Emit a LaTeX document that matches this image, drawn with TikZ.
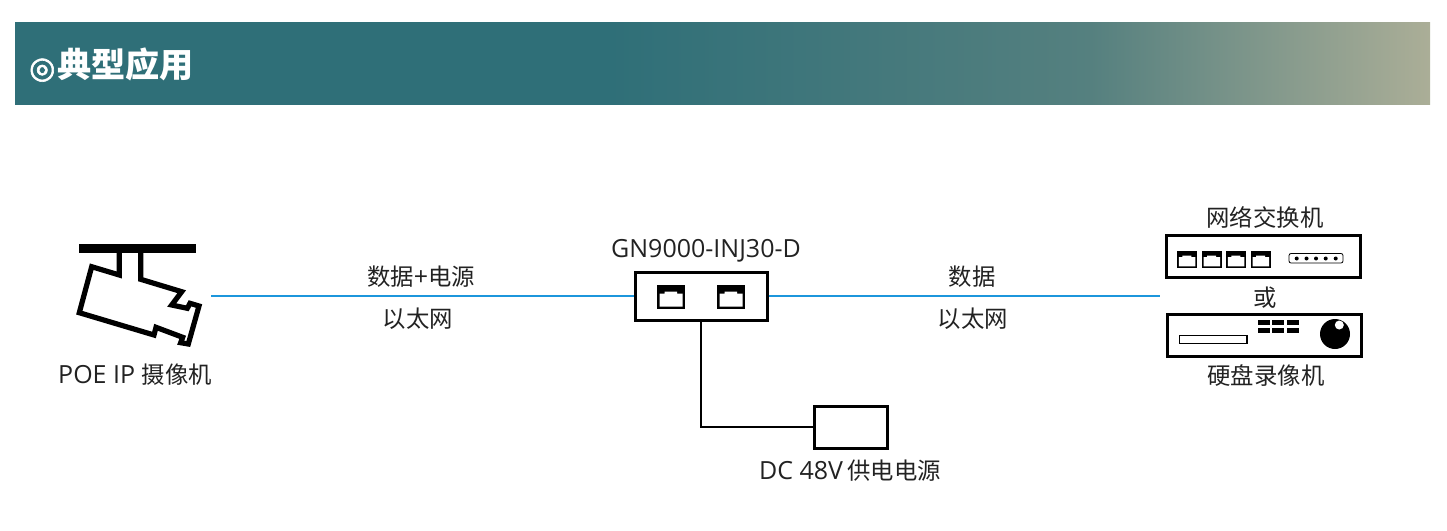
\documentclass[tikz,border=0pt]{standalone}
\usepackage{fontspec}
\setmainfont{Open Sans}
\newfontfamily\cjk[Scale=0.935]{Noto Sans CJK SC}
\newfontfamily\ringfont[FakeBold=2]{DejaVu Sans}
\definecolor{headteal}{HTML}{2F6F78}
\definecolor{headmid}{HTML}{55807F}
\definecolor{headsand}{HTML}{ABAE97}
\definecolor{linkblue}{HTML}{1C96DC}
\definecolor{inktext}{HTML}{222222}
\pgfdeclarehorizontalshading{headfade}{100bp}{color(0bp)=(headteal); color(46bp)=(headteal); color(63bp)=(headmid); color(75bp)=(headsand); color(100bp)=(headsand)}
\tikzset{
  lbl/.style={text=inktext, font=\fontsize{25}{28}\selectfont, inner sep=0pt},
  devbox/.style={draw=black, line width=3pt, fill=white, inner sep=0pt},
  link/.style={draw=linkblue, line width=2.2pt},
  wire/.style={draw=black, line width=2pt},
  rjport/.pic={
    \fill[black] (0,0) rectangle (28,24);
    \fill[white] (2.5,8.5) -- (7.5,8.5) -- (7.5,6.5) -- (20,6.5) -- (20,8.5) -- (25.5,8.5) -- (25.5,21.5) -- (2.5,21.5) -- cycle;
  }
}
\begin{document}
\begin{tikzpicture}[x=1pt,y=-1pt]
  \useasboundingbox (0,0) rectangle (1447,530);
  % header band
  \shade[shading=headfade] (15,22) rectangle (1430,104);
  \node[anchor=west, text=white, inner sep=0pt, font=\fontsize{36.5}{38}\selectfont\bfseries] (title) at (29,65) {{\ringfont\fontsize{30}{34}\selectfont ◎}\kern2pt{\cjk 典型应用}};
  % camera
  \fill[black] (79,244) rectangle (196,253);
  \draw[black, line width=5.2pt, miter limit=6] (119.3,253) -- (119.3,275) -- (91.7,266.7) -- (79.3,312.7) -- (154,335) -- (156,327.3) -- (182.7,337.3) -- (180.7,342.7) -- (188.3,344) -- (199,306) -- (190,303.3) -- (187.3,308.3) -- (171.7,305) -- (181.7,291.7) -- (140.7,279.3) -- (140.7,253);
  \coordinate (camend) at (211,296);
  \node[lbl] (camlbl) at (135,375) {POE IP {\cjk 摄像机}};
  % injector
  \node[devbox, minimum width=132pt, minimum height=48pt] (injector) at (701,296) {};
  \pic at (657,285) {rjport};
  \pic at (717,285) {rjport};
  \node[lbl] (injlbl) at (706,251) {GN9000-INJ30-D};
  % dc supply
  \node[devbox, minimum width=73pt, minimum height=42pt] (dcsupply) at (851,427) {};
  \node[lbl] (dclbl) at (850,471) {DC 48V\kern-2pt\ {\cjk 供电电源}};
  % switch
  \node[devbox, minimum width=194pt, minimum height=42pt] (switch) at (1263.7,256.5) {};
  \foreach \px in {1177,1201.7,1226,1250.7}
    \pic[scale=.72] at (\px,251) {rjport};
  \draw[black, line width=.8pt, fill=white, rounded corners=2pt] (1289,253.5) rectangle (1343,263);
  \foreach \px in {1296.7,1306.5,1316,1325.7,1335.7}
    \fill[black] (\px,258.5) circle (2);
  \node[lbl] (swlbl) at (1265,217) {\cjk 网络交换机};
  \node[lbl] (orlbl) at (1265,298) {\cjk 或};
  % recorder
  \node[devbox, minimum width=194pt, minimum height=42pt] (recorder) at (1264,335) {};
  \draw[black, line width=1.3pt, fill=white] (1179.5,335.5) rectangle (1247,343.5);
  \foreach \px in {1258,1272,1287}{
    \fill[black] (\px,320) rectangle ++(12,5);
    \fill[black] (\px,327.5) rectangle ++(12,5);
  }
  \fill[black] (1335,334) circle (15);
  \fill[white] (1339.3,325) circle (4.5);
  \node[lbl] (reclbl) at (1266,376) {\cjk 硬盘录像机};
  % links
  \coordinate (swend) at (1160,296);
  \draw[link] (camend) -- (injector);
  \draw[link] (injector) -- (swend);
  \draw[wire] (injector.south) |- (dcsupply.west);
  \node[lbl] (leftup) at (421,277) {{\cjk 数据}+{\cjk 电源}};
  \node[lbl] (leftdown) at (418,319) {\cjk 以太网};
  \node[lbl] (rightup) at (972,277) {\cjk 数据};
  \node[lbl] (rightdown) at (973,319) {\cjk 以太网};
\end{tikzpicture}
\end{document}
